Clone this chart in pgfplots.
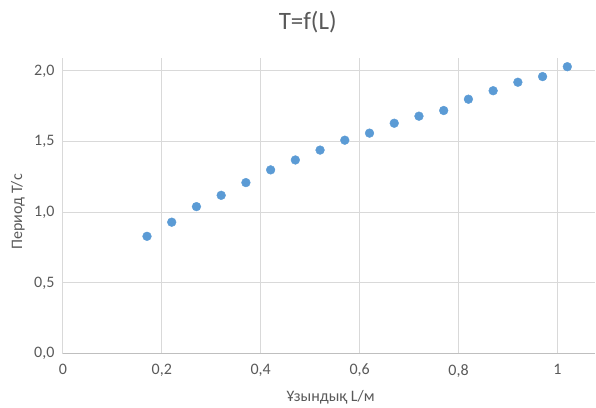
\documentclass[border=0pt]{standalone}
\usepackage{fontspec}
\setmainfont{Carlito}
\usepackage{pgfplots}
\pgfplotsset{compat=1.18}
\definecolor{txtgray}{HTML}{595959}
\definecolor{gridgray}{HTML}{D9D9D9}
\definecolor{axisgray}{HTML}{BFBFBF}
\definecolor{dotblue}{HTML}{5B9BD5}
\begin{document}
\begin{tikzpicture}[x=1bp,y=1bp]
\begin{axis}[
  name=main,
  at={(0,0)}, anchor=origin,
  scale only axis,
  width=533bp, height=296bp,
  xmin=0, xmax=1.0768,
  ymin=0, ymax=2.092,
  xtick={0,0.2,0.4,0.6,0.8,1},
  ytick={0,0.5,1,1.5,2},
  grid=major,
  major grid style={gridgray, line width=1bp},
  axis line style={draw=none},
  axis x line*=bottom, axis y line*=left,
  tick style={draw=none},
  xticklabel style={/pgf/number format/.cd, use comma, fixed, precision=1, assume math mode=true},
  yticklabel style={/pgf/number format/.cd, use comma, fixed, fixed zerofill, precision=1, assume math mode=true},
  ticklabel style={font=\fontsize{16bp}{18bp}\selectfont, text=txtgray},
  xticklabel shift=7bp,
  yticklabel shift=5bp,
  clip=false,
]
\draw[axisgray, line width=1.2bp] (axis cs:0,0) -- (axis cs:1.0768,0);
\addplot[only marks, mark=*, mark size=4.4bp, mark options={fill=dotblue, draw=dotblue}] coordinates {
  (0.17,0.83) (0.22,0.93) (0.27,1.04) (0.32,1.12) (0.37,1.21) (0.42,1.30)
  (0.47,1.37) (0.52,1.44) (0.57,1.51) (0.62,1.56) (0.67,1.63) (0.72,1.68)
  (0.77,1.72) (0.82,1.80) (0.87,1.86) (0.92,1.92) (0.97,1.96) (1.02,2.03)
};
\end{axis}
% title and axis labels
\node[text=txtgray, font=\fontsize{25bp}{28bp}\selectfont] at (245,332) {T=f(L)};
\node[text=txtgray, font=\fontsize{16bp}{18bp}\selectfont, rotate=90] at (-45,142) {Период T/с};
\node[text=txtgray, font=\fontsize{16bp}{18bp}\selectfont] at (268,-44) {Ұзындық L/м};
\useasboundingbox (-63,-53) rectangle (533,354);
\end{tikzpicture}
\end{document}
